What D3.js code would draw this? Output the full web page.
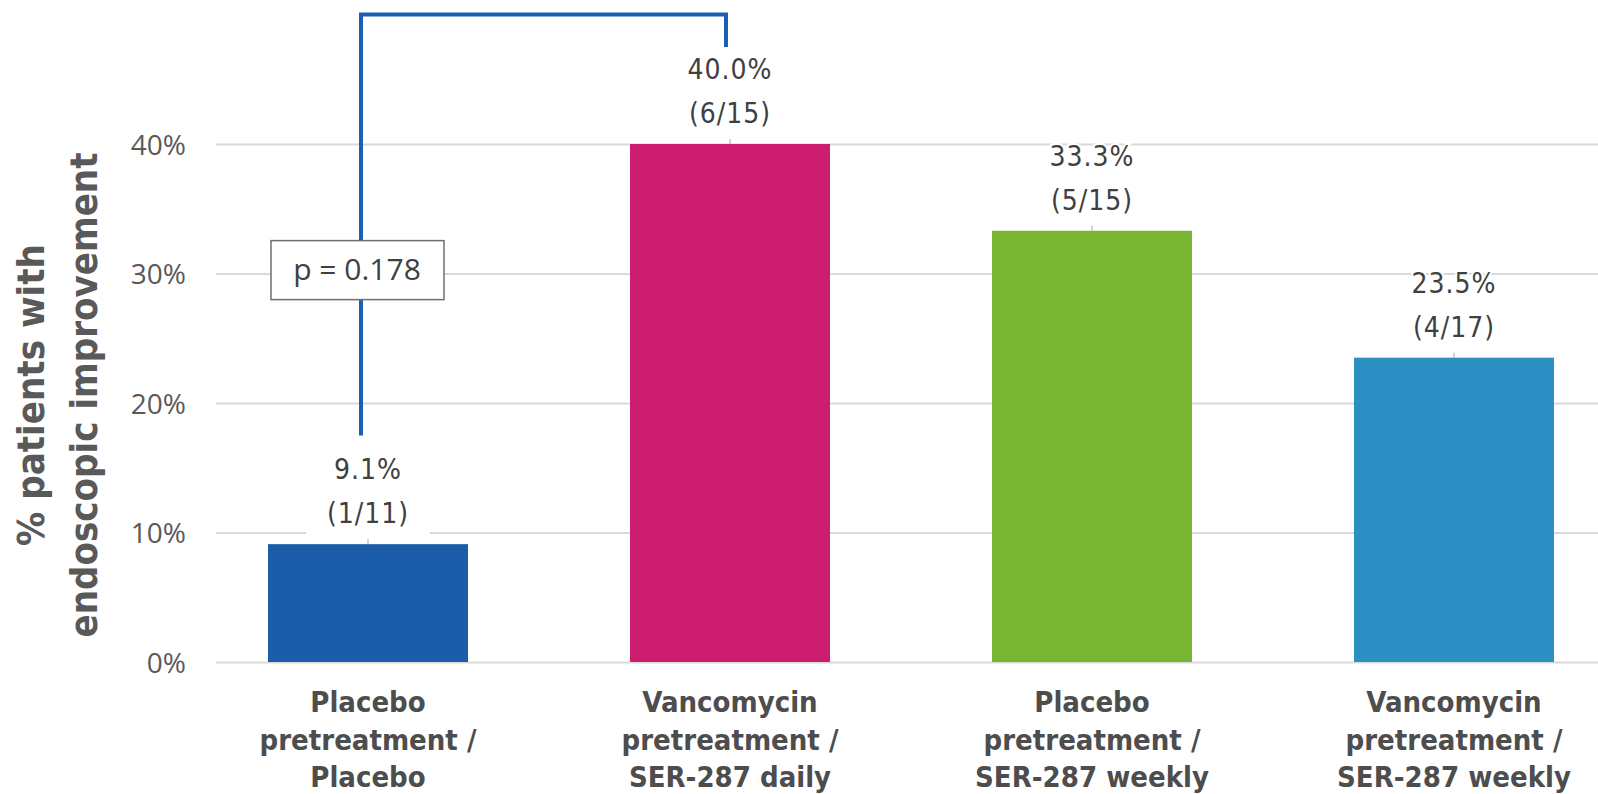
<!DOCTYPE html>
<html>
<head>
<meta charset="utf-8">
<script src="https://cdn.jsdelivr.net/npm/d3@7"></script>
<style>
  body { margin: 0; background: #fff; }
  svg { display: block; }
  .grid line { stroke: #d9d9d9; stroke-width: 2; }
  .grid .domain { display: none; }
  .tick text { font-family: 'Open Sans', sans-serif; font-size: 28px; fill: #595959; }
</style>
</head>
<body>
<div class="chart"></div>
<script>
// data
var groups  = ['g1', 'g2', 'g3', 'g4'];
var labels  = [
  ['Placebo', 'pretreatment /', 'Placebo'],
  ['Vancomycin', 'pretreatment /', 'SER-287 daily'],
  ['Placebo', 'pretreatment /', 'SER-287 weekly'],
  ['Vancomycin', 'pretreatment /', 'SER-287 weekly']
];
var values  = [0.091, 0.400, 0.333, 0.235];
var counts  = ['(1/11)', '(6/15)', '(5/15)', '(4/17)'];
var colors  = ['#1c5daa', '#cd1d71', '#77b533', '#2b8fc4'];
var yTicks  = [0, 0.1, 0.2, 0.3, 0.4];
var pText   = 'p = 0.178';

var W = 1598, H = 794;

var svg = d3.select('.chart')
            .append('svg')
            .attr('width', W)
            .attr('height', H);

var x = d3.scaleBand()
          .domain(groups)
          .range([187, 1635])
          .paddingInner(0.4475)
          .paddingOuter(0.22375);

var y = d3.scaleLinear()
          .domain([0, 0.4])
          .range([662, 144]);

// gridlines
var grid = svg.append('g')
              .attr('class', 'grid')
              .attr('transform', 'translate(216,0)')
              .call(d3.axisLeft(y).tickValues(yTicks).tickSize(-(W - 216)).tickFormat(''));

// y labels
var yAxis = svg.append('g')
               .attr('transform', 'translate(186,0)')
               .call(d3.axisLeft(y).tickValues(yTicks).tickSize(0).tickPadding(0).tickFormat(d3.format('.0%')));
yAxis.select('.domain').remove();
yAxis.selectAll('text').attr('dy', '0.36em');

// y title
var title = svg.append('text')
               .attr('transform', 'translate(0,395) rotate(-90)')
               .attr('text-anchor', 'middle')
               .style('font-family', "'DejaVu Sans Condensed', 'DejaVu Sans', sans-serif")
               .style('font-stretch', 'condensed')
               .style('font-weight', 'bold')
               .style('font-size', '38px')
               .attr('fill', '#595959');
title.append('tspan').attr('x', 0).attr('y', 44).text('% patients with');
title.append('tspan').attr('x', 0).attr('y', 97).text('endoscopic improvement');

// bars
svg.selectAll('rect.bar')
   .data(values)
   .enter()
   .append('rect')
   .attr('class', 'bar')
   .attr('x', function(d, i){ return x(groups[i]); })
   .attr('width', x.bandwidth())
   .attr('y', function(d){ return y(d); })
   .attr('height', function(d){ return y(0) - y(d); })
   .attr('fill', function(d, i){ return colors[i]; });

// data labels
var lab = svg.selectAll('g.lab')
             .data(values)
             .enter()
             .append('g')
             .attr('class', 'lab')
             .attr('transform', function(d, i){
               return 'translate(' + (x(groups[i]) + x.bandwidth() / 2) + ',' + y(d) + ')';
             });

lab.append('rect')
   .attr('x', -62)
   .attr('y', -46)
   .attr('width', 124)
   .attr('height', 45)
   .attr('fill', '#fff');

lab.append('line')
   .attr('y1', -5)
   .attr('y2', 0)
   .attr('stroke', '#a6a6a6')
   .attr('stroke-width', 1);

lab.append('text')
   .attr('y', -65)
   .attr('text-anchor', 'middle')
   .style('font-family', "'DejaVu Sans Condensed', 'DejaVu Sans', sans-serif")
   .style('font-stretch', 'condensed')
   .style('font-size', '28px')
   .style('letter-spacing', '1px')
   .attr('fill', '#404040')
   .attr('stroke', '#fff')
   .attr('stroke-width', 4)
   .attr('paint-order', 'stroke')
   .text(function(d){ return d3.format('.1%')(d); });

lab.append('text')
   .attr('y', -21)
   .attr('text-anchor', 'middle')
   .style('font-family', "'DejaVu Sans Condensed', 'DejaVu Sans', sans-serif")
   .style('font-stretch', 'condensed')
   .style('font-size', '28px')
   .style('letter-spacing', '1px')
   .attr('fill', '#404040')
   .text(function(d, i){ return counts[i]; });

// x labels
svg.selectAll('text.xlab')
   .data(labels)
   .enter()
   .append('text')
   .attr('class', 'xlab')
   .attr('text-anchor', 'middle')
   .style('font-family', "'DejaVu Sans Condensed', 'DejaVu Sans', sans-serif")
   .style('font-stretch', 'condensed')
   .style('font-weight', 'bold')
   .style('font-size', '29px')
   .attr('fill', '#4d4d4d')
   .each(function(d, i){
     var cx = x(groups[i]) + x.bandwidth() / 2;
     d3.select(this).selectAll('tspan')
       .data(d)
       .enter()
       .append('tspan')
       .attr('x', cx)
       .attr('y', function(t, j){ return y(0) + 50 + j * 37.5; })
       .text(function(t){ return t; });
   });

// significance bracket
var leftX  = x('g1') + x.bandwidth() / 2 - 7,
    rightX = x('g2') + x.bandwidth() / 2 - 4;

svg.append('path')
   .attr('d', 'M' + leftX + ',' + y(0.175) + 'V' + y(0.5) + 'H' + rightX + 'V' + y(0.475))
   .attr('fill', 'none')
   .attr('stroke', '#1b5fb4')
   .attr('stroke-width', 4);

var pbox = svg.append('g')
              .attr('transform', 'translate(' + (leftX - 4) + ',' + y(0.303) + ')');
pbox.append('rect')
    .attr('x', -86)
    .attr('y', -29)
    .attr('width', 173)
    .attr('height', 59)
    .attr('fill', '#fff')
    .attr('stroke', '#6f6f6f')
    .attr('stroke-width', 1.5);
pbox.append('text')
    .attr('text-anchor', 'middle')
    .attr('dy', '0.36em')
    .style('font-family', "'Open Sans', sans-serif")
    .style('font-size', '30px')
    .attr('fill', '#404040')
    .text(pText);
</script>
</body>
</html>
